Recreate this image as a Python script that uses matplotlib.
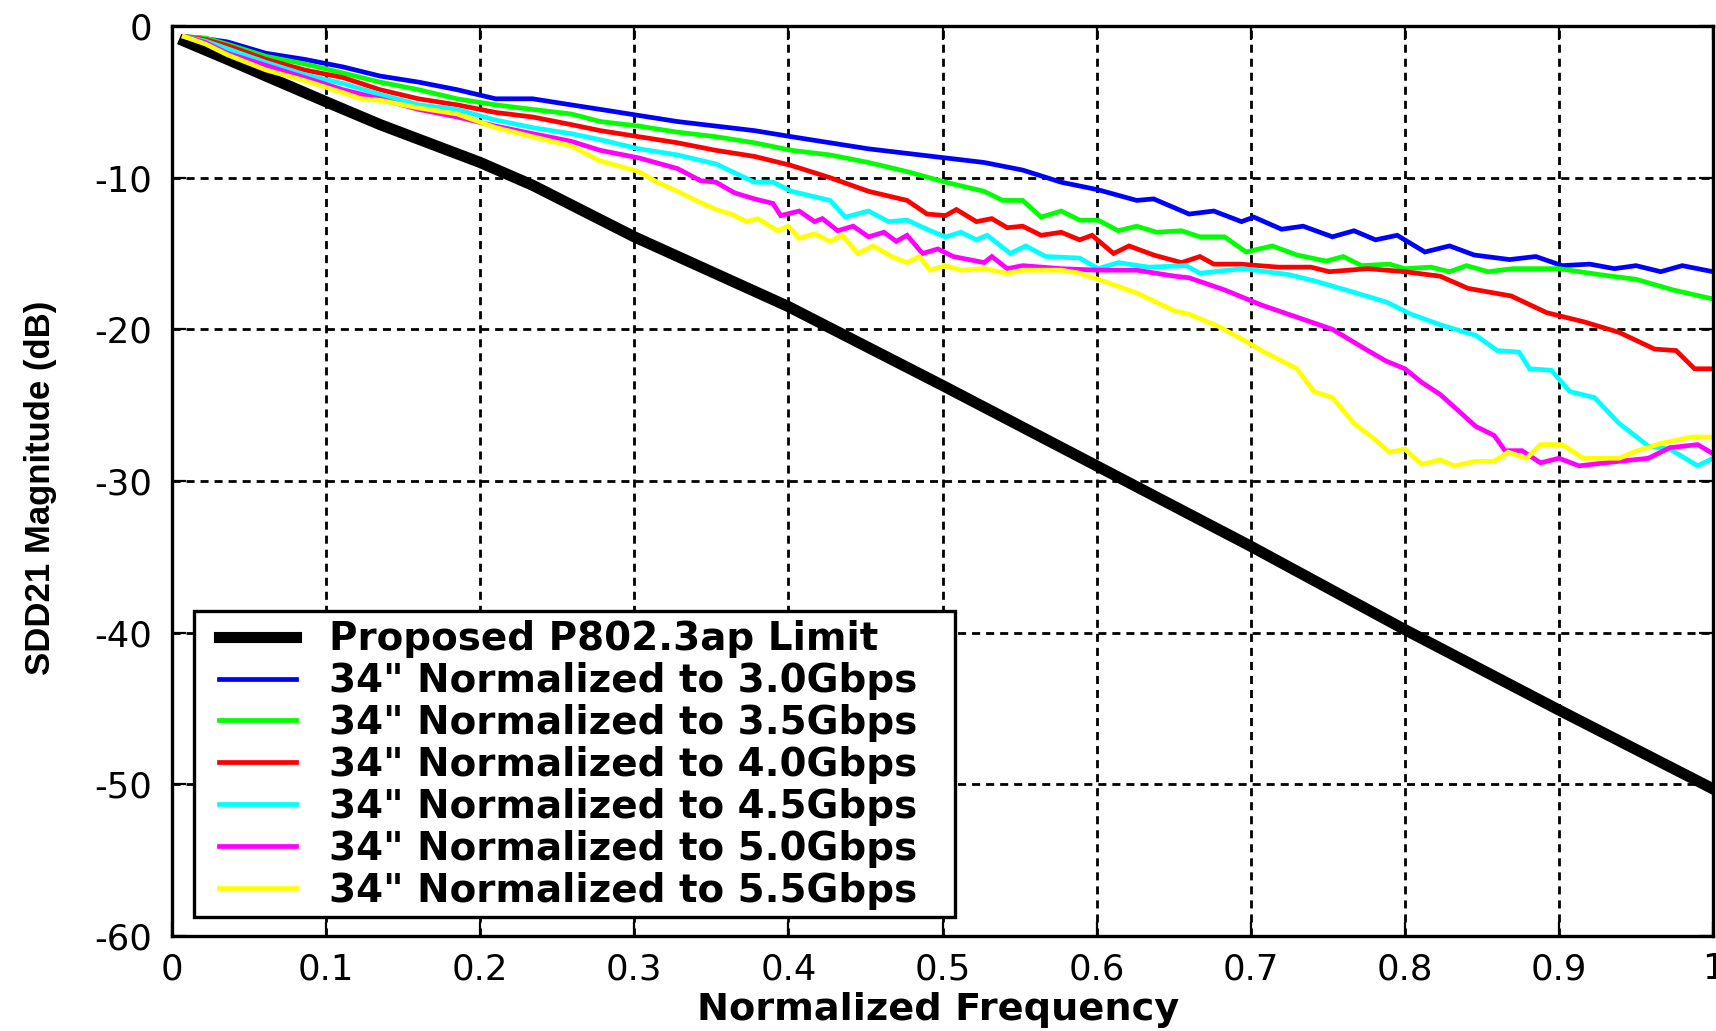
"""SDD21 insertion loss of a 34 inch channel against the proposed P802.3ap limit."""

from __future__ import annotations

from pathlib import Path

import matplotlib

matplotlib.use("Agg")
import matplotlib.pyplot as plt
from matplotlib.patches import Rectangle

# Proposed P802.3ap limit line
limit_freq = [0.008, 0.036, 0.061, 0.1, 0.135, 0.2, 0.234, 0.3, 0.4, 0.5, 0.6, 0.7, 0.8, 0.9, 1.0]
limit_db = [-1.0, -2.2, -3.3, -5.0, -6.5, -9.0, -10.5, -13.9, -18.5, -23.7, -29.0, -34.3, -39.8, -45.1, -50.3]

# 34" trace, normalized to 3.0 Gbps
freq_30 = [0.008, 0.019, 0.036, 0.061, 0.086, 0.111, 0.135, 0.16, 0.185, 0.21,
           0.234, 0.259, 0.278, 0.303, 0.328, 0.353, 0.378, 0.402, 0.427, 0.452,
           0.477, 0.502, 0.527, 0.552, 0.577, 0.601, 0.626, 0.637, 0.66, 0.676,
           0.694, 0.702, 0.72, 0.734, 0.753, 0.767, 0.781, 0.795, 0.813, 0.829,
           0.845, 0.868, 0.885, 0.902, 0.92, 0.936, 0.95, 0.966, 0.98, 1.0]
sdd21_30 = [-0.7, -0.8, -1.05, -1.8, -2.2, -2.7, -3.3, -3.7, -4.2, -4.8,
            -4.8, -5.2, -5.5, -5.9, -6.3, -6.6, -6.9, -7.3, -7.7, -8.1,
            -8.4, -8.7, -9.0, -9.5, -10.3, -10.8, -11.5, -11.4, -12.4, -12.2,
            -12.9, -12.6, -13.4, -13.2, -13.9, -13.5, -14.1, -13.8, -14.9, -14.5,
            -15.1, -15.4, -15.2, -15.8, -15.7, -16.0, -15.8, -16.2, -15.8, -16.2]

# 34" trace, normalized to 3.5 Gbps
freq_35 = [0.008, 0.022, 0.036, 0.061, 0.086, 0.111, 0.135, 0.16, 0.185, 0.21,
           0.234, 0.259, 0.278, 0.303, 0.328, 0.353, 0.378, 0.402, 0.427, 0.452,
           0.477, 0.502, 0.527, 0.539, 0.552, 0.564, 0.577, 0.589, 0.601, 0.614,
           0.626, 0.639, 0.655, 0.667, 0.683, 0.697, 0.714, 0.73, 0.749, 0.76,
           0.772, 0.79, 0.80, 0.817, 0.829, 0.84, 0.854, 0.87, 0.90, 0.927,
           0.95, 0.974, 1.0]
sdd21_35 = [-0.7, -0.8, -1.2, -2.0, -2.5, -3.1, -3.7, -4.2, -4.8, -5.2,
            -5.5, -5.8, -6.3, -6.6, -7.0, -7.3, -7.7, -8.2, -8.5, -9.0,
            -9.6, -10.3, -10.9, -11.5, -11.5, -12.6, -12.2, -12.8, -12.8, -13.5,
            -13.2, -13.6, -13.5, -13.9, -13.9, -14.9, -14.5, -15.1, -15.5, -15.2,
            -15.8, -15.7, -16.0, -15.9, -16.2, -15.8, -16.2, -16.0, -16.0, -16.4,
            -16.7, -17.4, -18.0]

# 34" trace, normalized to 4.0 Gbps
freq_40 = [0.008, 0.022, 0.036, 0.061, 0.086, 0.111, 0.135, 0.16, 0.185, 0.21,
           0.234, 0.259, 0.278, 0.303, 0.328, 0.353, 0.378, 0.402, 0.427, 0.452,
           0.477, 0.49, 0.502, 0.509, 0.522, 0.532, 0.542, 0.552, 0.564, 0.577,
           0.589, 0.597, 0.611, 0.621, 0.637, 0.655, 0.667, 0.676, 0.693, 0.718,
           0.739, 0.751, 0.776, 0.8, 0.823, 0.841, 0.869, 0.892, 0.916, 0.939,
           0.962, 0.976, 0.988, 1.0]
sdd21_40 = [-0.7, -0.9, -1.3, -2.2, -2.9, -3.4, -4.2, -4.8, -5.2, -5.7,
            -6.0, -6.5, -6.9, -7.3, -7.7, -8.2, -8.6, -9.2, -10.0, -10.9,
            -11.5, -12.4, -12.5, -12.1, -12.9, -12.7, -13.3, -13.2, -13.8, -13.6,
            -14.1, -13.8, -15.0, -14.5, -15.1, -15.6, -15.2, -15.7, -15.7, -15.9,
            -15.9, -16.2, -16.0, -16.2, -16.5, -17.3, -17.8, -18.9, -19.5, -20.2,
            -21.3, -21.4, -22.6, -22.6]

# 34" trace, normalized to 4.5 Gbps
freq_45 = [0.008, 0.022, 0.036, 0.061, 0.086, 0.111, 0.135, 0.16, 0.185, 0.21,
           0.234, 0.259, 0.278, 0.303, 0.328, 0.353, 0.378, 0.39, 0.402, 0.427,
           0.437, 0.452, 0.465, 0.477, 0.492, 0.502, 0.512, 0.522, 0.529, 0.544,
           0.554, 0.567, 0.589, 0.601, 0.614, 0.634, 0.658, 0.667, 0.695, 0.725,
           0.741, 0.765, 0.788, 0.804, 0.823, 0.846, 0.86, 0.874, 0.881, 0.895,
           0.907, 0.923, 0.939, 0.958, 0.972, 0.99, 1.0]
sdd21_45 = [-0.7, -1.0, -1.5, -2.4, -3.2, -3.8, -4.5, -5.2, -5.5, -6.2,
            -6.7, -7.1, -7.5, -8.1, -8.5, -9.1, -10.3, -10.3, -10.9, -11.5,
            -12.6, -12.2, -12.9, -12.8, -13.5, -13.9, -13.6, -14.1, -13.8, -15.0,
            -14.5, -15.2, -15.3, -16.0, -15.6, -15.9, -15.8, -16.3, -16.0, -16.4,
            -16.8, -17.5, -18.2, -19.0, -19.7, -20.4, -21.4, -21.5, -22.6, -22.7,
            -24.1, -24.5, -26.2, -27.7, -27.9, -29.0, -28.5]

# 34" trace, normalized to 5.0 Gbps
freq_50 = [0.008, 0.022, 0.036, 0.061, 0.086, 0.111, 0.135, 0.16, 0.185, 0.21,
           0.234, 0.259, 0.278, 0.303, 0.328, 0.343, 0.353, 0.365, 0.378, 0.39,
           0.395, 0.407, 0.417, 0.422, 0.432, 0.442, 0.452, 0.462, 0.47, 0.477,
           0.487, 0.497, 0.507, 0.527, 0.532, 0.542, 0.552, 0.577, 0.601, 0.626,
           0.651, 0.66, 0.683, 0.707, 0.73, 0.753, 0.776, 0.788, 0.8, 0.811,
           0.823, 0.834, 0.846, 0.858, 0.865, 0.876, 0.888, 0.9, 0.913, 0.939,
           0.958, 0.972, 0.99, 1.0]
sdd21_50 = [-0.7, -1.1, -1.8, -2.6, -3.4, -4.2, -4.8, -5.5, -6.0, -6.6,
            -7.1, -7.6, -8.2, -8.7, -9.4, -10.2, -10.3, -11.0, -11.4, -11.7,
            -12.5, -12.2, -12.9, -12.7, -13.5, -13.2, -13.9, -13.6, -14.2, -13.8,
            -15.0, -14.7, -15.2, -15.6, -15.2, -16.0, -15.8, -16.0, -16.1, -16.1,
            -16.5, -16.6, -17.4, -18.4, -19.2, -20.0, -21.4, -22.1, -22.6, -23.5,
            -24.3, -25.3, -26.4, -27.0, -28.0, -28.0, -28.8, -28.5, -29.0, -28.7,
            -28.5, -27.8, -27.6, -28.2]

# 34" trace, normalized to 5.5 Gbps
freq_55 = [0.008, 0.022, 0.036, 0.061, 0.086, 0.111, 0.123, 0.135, 0.16, 0.185,
           0.21, 0.234, 0.259, 0.278, 0.303, 0.315, 0.328, 0.34, 0.353, 0.363,
           0.373, 0.38, 0.393, 0.4, 0.407, 0.417, 0.427, 0.435, 0.445, 0.455,
           0.467, 0.477, 0.485, 0.492, 0.502, 0.512, 0.527, 0.542, 0.552, 0.577,
           0.589, 0.601, 0.626, 0.651, 0.66, 0.679, 0.697, 0.707, 0.73, 0.741,
           0.753, 0.767, 0.781, 0.79, 0.8, 0.811, 0.823, 0.832, 0.846, 0.858,
           0.867, 0.879, 0.888, 0.902, 0.916, 0.939, 0.951, 0.967, 0.986, 1.0]
sdd21_55 = [-0.7, -1.2, -1.9, -2.9, -3.6, -4.4, -4.8, -4.9, -5.4, -5.8,
            -6.7, -7.3, -7.9, -8.9, -9.6, -10.3, -10.9, -11.5, -12.1, -12.4,
            -12.9, -12.7, -13.5, -13.2, -14.0, -13.7, -14.2, -13.8, -15.0, -14.5,
            -15.2, -15.6, -15.2, -16.1, -15.8, -16.1, -16.0, -16.3, -16.1, -16.1,
            -16.3, -16.7, -17.6, -18.8, -19.0, -19.8, -20.8, -21.4, -22.6, -24.1,
            -24.5, -26.2, -27.3, -28.1, -27.9, -28.9, -28.6, -29.0, -28.7, -28.7,
            -28.1, -28.5, -27.6, -27.6, -28.5, -28.5, -28.0, -27.5, -27.1, -27.1]

series_labels = [
    "Proposed P802.3ap Limit",
    '34" Normalized to 3.0Gbps',
    '34" Normalized to 3.5Gbps',
    '34" Normalized to 4.0Gbps',
    '34" Normalized to 4.5Gbps',
    '34" Normalized to 5.0Gbps',
    '34" Normalized to 5.5Gbps',
]

x_ticks = [0, 0.1, 0.2, 0.3, 0.4, 0.5, 0.6, 0.7, 0.8, 0.9, 1.0]
y_ticks = [0, -10, -20, -30, -40, -50, -60]


def _plot_sdd21(output_path: Path) -> None:
    plt.rcParams["lines.scale_dashes"] = False
    plt.rcParams["font.family"] = ["DejaVu Sans"]

    fig = plt.figure(figsize=(17.16, 10.31), dpi=100)
    ax = fig.add_axes([0.1002, 0.0921, 0.8981, 0.8827])

    traces = [
        (limit_freq, limit_db, "black", 8.0),
        (freq_30, sdd21_30, "#0000ff", 3.4),
        (freq_35, sdd21_35, "#00ff00", 3.4),
        (freq_40, sdd21_40, "#ff0000", 3.4),
        (freq_45, sdd21_45, "#00ffff", 3.4),
        (freq_50, sdd21_50, "#ff00ff", 3.4),
        (freq_55, sdd21_55, "#ffff00", 3.4),
    ]
    for (freq, sdd21, color, width), label in zip(traces, series_labels):
        ax.plot(freq, sdd21, color=color, linewidth=width, label=label,
                solid_joinstyle="miter", zorder=3)

    ax.set_xlim(0, 1)
    ax.set_ylim(-60, 0)
    ax.set_xticks(x_ticks, labels=[f"{v:g}" for v in x_ticks])
    ax.set_yticks(y_ticks, labels=[f"{v:g}" for v in y_ticks])
    ax.tick_params(axis="both", which="major", direction="in", length=10, width=1.6,
                   labelsize=25.5, top=True, right=True)
    ax.tick_params(axis="x", pad=11.5)
    ax.tick_params(axis="y", pad=14)

    ax.grid(True, color="black", linestyle=(0, (5.8, 4.3)), linewidth=2.0, zorder=1)
    for spine in ax.spines.values():
        spine.set_linewidth(2.4)
        spine.set_zorder(4)

    ax.set_xlabel("Normalized Frequency", fontsize=27.5, fontweight="bold")
    ax.xaxis.set_label_coords(0.497, -0.061)
    ax.set_ylabel("SDD21 Magnitude (dB)", fontsize=25, fontweight="bold",
                  family=["Liberation Sans", "DejaVu Sans"])
    ax.yaxis.set_label_coords(-0.0746, 0.492)

    # legend box drawn on its own so its padding can differ per side
    frame = Rectangle((0.0143, 0.0209), 0.4938, 0.3363, transform=ax.transAxes,
                      facecolor="white", edgecolor="black", linewidth=2.4, zorder=5)
    ax.add_patch(frame)
    legend = ax.legend(
        loc="upper left",
        bbox_to_anchor=(0.0305, 0.347),
        borderaxespad=0,
        borderpad=0,
        frameon=False,
        prop={"family": "DejaVu Sans", "weight": "bold", "size": 28},
        handlelength=1.98,
        handletextpad=0.84,
        labelspacing=0.1,
    )
    legend.set_zorder(6)

    output_path.parent.mkdir(parents=True, exist_ok=True)
    fig.savefig(output_path, dpi=100, facecolor="white")
    plt.close(fig)


if __name__ == "__main__":
    _plot_sdd21(Path("out.png"))
